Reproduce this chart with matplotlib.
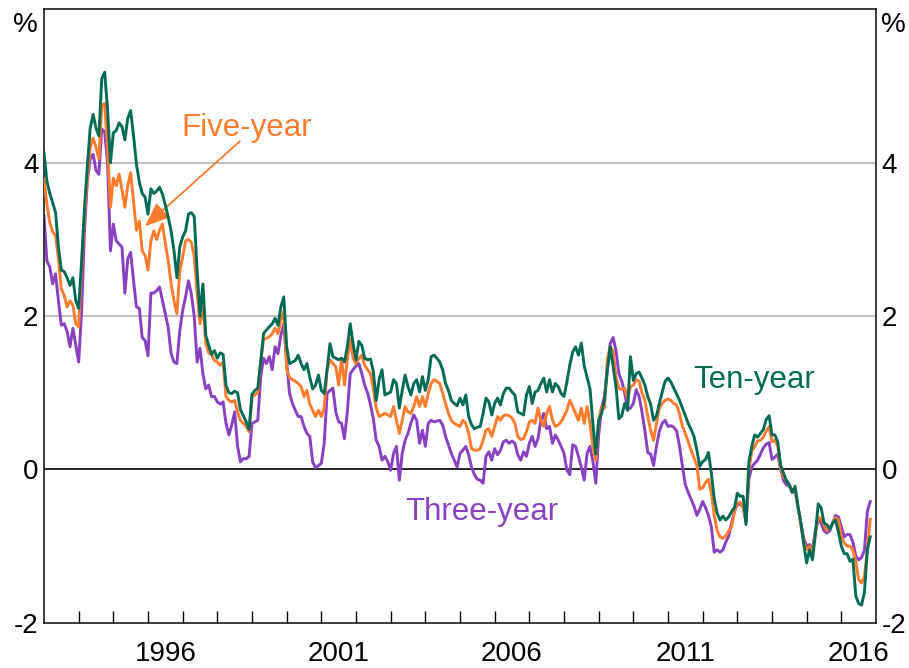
import numpy as np
import matplotlib
matplotlib.use('Agg')
import matplotlib.pyplot as plt

# monthly values, Jan 1993 onwards (per cent)
ten_year = [
    4.13, 3.76, 3.6, 3.48, 3.35, 2.9, 2.6, 2.58, 2.5, 2.4, 2.5, 2.2,
    2.1, 2.7, 3.4, 3.95, 4.45, 4.63, 4.45, 4.35, 5.1, 5.18, 4.7, 4.0,
    4.39, 4.42, 4.52, 4.47, 4.3, 4.58, 4.68, 4.35, 3.98, 3.75, 3.6, 3.55,
    3.33, 3.66, 3.6, 3.63, 3.68, 3.59, 3.45, 3.29, 3.11, 2.85, 2.5, 2.9,
    3.03, 3.11, 3.33, 3.35, 3.3, 2.6, 2.0, 2.42, 1.75, 1.62, 1.5, 1.55,
    1.45, 1.52, 1.5, 1.1, 1.0, 0.99, 1.02, 1.0, 0.78, 0.7, 0.62, 0.52,
    0.98, 1.03, 1.06, 1.4, 1.77, 1.82, 1.86, 1.9, 1.97, 1.88, 2.12, 2.25,
    1.6, 1.38, 1.4, 1.42, 1.49, 1.38, 1.3, 1.38, 1.2, 1.05, 1.1, 1.23,
    1.03, 0.99, 1.3, 1.64, 1.47, 1.45, 1.43, 1.45, 1.4, 1.6, 1.9, 1.64,
    1.43, 1.67, 1.62, 1.45, 1.43, 1.44, 1.28, 0.9, 1.17, 1.3, 0.97, 0.99,
    1.01, 1.17, 1.12, 0.8, 1.03, 1.23, 1.08, 0.97, 1.12, 1.17, 1.01, 1.21,
    1.03, 1.17, 1.47, 1.49, 1.45, 1.4, 1.3, 1.12, 1.03, 0.9, 0.86, 0.83,
    0.93, 0.84, 0.97, 0.69, 0.58, 0.53, 0.55, 0.56, 0.73, 0.93, 0.88, 0.71,
    0.86, 0.93, 0.84, 0.99, 1.06, 1.06, 1.01, 0.97, 0.75, 0.73, 0.71, 0.97,
    1.08, 0.86, 1.01, 1.03, 1.12, 1.19, 1.01, 1.17, 1.01, 1.12, 1.08, 0.99,
    0.95, 1.14, 1.36, 1.53, 1.6, 1.49, 1.65, 1.35, 1.2, 1.05, 0.6, 0.2,
    0.64, 0.73, 0.9, 1.3, 1.6, 1.34, 1.08, 0.66, 0.7, 0.86, 0.77, 1.47,
    1.16, 1.25, 1.27, 1.19, 1.1, 0.95, 0.85, 0.64, 0.7, 0.86, 1.01, 1.15,
    1.19, 1.14, 1.06, 0.98, 0.9, 0.8, 0.7, 0.6, 0.52, 0.43, 0.25, 0.04,
    0.1, 0.13, 0.22, -0.05, -0.38, -0.57, -0.66, -0.61, -0.66, -0.62, -0.55, -0.5,
    -0.31, -0.35, -0.35, -0.72, 0.1, 0.3, 0.45, 0.42, 0.47, 0.52, 0.65, 0.7,
    0.45, 0.45, 0.36, 0.05, -0.05, -0.15, -0.2, -0.3, -0.22, -0.48, -0.7, -0.98,
    -1.22, -1.05, -1.18, -0.85, -0.45, -0.5, -0.7, -0.72, -0.78, -0.7, -0.66, -0.82,
    -1.0, -1.1, -1.1, -1.2, -1.17, -1.65, -1.75, -1.77, -1.6, -1.05, -0.88,
]

five_year = [
    3.79, 3.46, 3.22, 3.1, 3.05, 2.75, 2.35, 2.27, 2.12, 2.2, 2.14, 1.9,
    1.86, 2.6, 3.3, 3.8, 4.2, 4.32, 4.2, 4.05, 4.75, 4.77, 4.2, 3.42,
    3.8, 3.7, 3.85, 3.65, 3.42, 3.7, 3.87, 3.5, 3.12, 3.24, 2.85, 2.79,
    2.6, 2.98, 3.11, 3.0, 3.12, 3.2, 2.95, 2.72, 2.42, 2.2, 2.03, 2.59,
    2.77, 2.98, 3.0, 2.96, 2.78, 2.3, 1.9, 2.15, 1.65, 1.52, 1.5, 1.42,
    1.4, 1.36, 1.4, 0.95, 0.9, 0.88, 0.9, 0.75, 0.64, 0.6, 0.56, 0.49,
    0.95, 0.97, 1.0, 1.4, 1.69, 1.71, 1.73, 1.77, 1.84, 1.77, 1.95, 2.06,
    1.3, 1.2, 1.17, 1.15, 1.12, 1.08, 0.95, 1.03, 0.85, 0.77, 0.69, 0.77,
    0.69, 0.8, 1.3, 1.43, 1.38, 1.34, 1.1, 1.45, 1.1, 1.43, 1.7, 1.45,
    1.38, 1.45, 1.49, 1.36, 1.3, 1.25, 1.05, 0.8, 0.69, 0.71, 0.73, 0.71,
    0.69, 0.82, 0.64, 0.47, 0.64, 0.82, 0.75, 0.73, 0.82, 0.95, 0.82, 0.95,
    0.82, 0.99, 1.12, 1.17, 1.15, 1.12, 0.99, 0.86, 0.73, 0.64, 0.6, 0.58,
    0.56, 0.64, 0.6, 0.47, 0.27, 0.25, 0.25, 0.27, 0.38, 0.51, 0.53, 0.43,
    0.56, 0.69, 0.64, 0.7, 0.71, 0.7, 0.67, 0.6, 0.43, 0.39, 0.4, 0.49,
    0.62, 0.64, 0.6, 0.8, 0.64, 0.56, 0.73, 0.82, 0.64, 0.56, 0.58, 0.62,
    0.69, 0.77, 0.9, 0.82, 0.73, 0.64, 0.8, 0.6, 0.82, 0.6, 0.3, 0.12,
    0.64, 0.82, 0.8, 1.43, 1.6, 1.55, 1.2, 1.06, 1.04, 1.06, 0.92, 1.08,
    1.1, 1.17, 1.15, 1.0, 0.9, 0.69, 0.51, 0.38, 0.6, 0.8, 0.86, 0.9,
    0.92, 0.9, 0.86, 0.84, 0.72, 0.56, 0.47, 0.36, 0.25, 0.15, 0.05, -0.26,
    -0.24, -0.17, -0.13, -0.3, -0.6, -0.8, -0.88, -0.9, -0.87, -0.8, -0.75, -0.55,
    -0.44, -0.43, -0.5, -0.68, 0.0, 0.24, 0.3, 0.37, 0.38, 0.42, 0.5, 0.56,
    0.36, 0.38, 0.3, 0.0, -0.1, -0.14, -0.2, -0.3, -0.26, -0.5, -0.72, -0.95,
    -1.05, -1.0, -1.1, -0.83, -0.62, -0.65, -0.72, -0.8, -0.77, -0.7, -0.63, -0.66,
    -0.88, -0.96, -1.0, -1.0, -1.05, -1.2, -1.44, -1.48, -1.4, -1.05, -0.65,
]

three_year = [
    3.3, 2.72, 2.64, 2.42, 2.55, 2.2, 1.88, 1.9, 1.8, 1.6, 1.84, 1.62,
    1.4, 2.05, 3.1, 3.76, 4.05, 4.11, 3.9, 3.85, 4.44, 4.4, 4.0, 2.85,
    3.2, 2.98, 2.94, 2.9, 2.3, 2.75, 2.83, 2.46, 2.12, 2.1, 1.72, 1.68,
    1.48, 2.3, 2.3, 2.33, 2.38, 2.2, 2.03, 1.85, 1.51, 1.4, 1.38, 1.81,
    2.07, 2.25, 2.46, 2.29, 2.0, 1.4, 1.58, 1.25, 1.05, 1.1, 0.95, 0.95,
    0.88, 0.85, 0.88, 0.6, 0.45, 0.58, 0.75, 0.3, 0.1, 0.14, 0.14, 0.17,
    0.6, 0.62, 0.64, 1.2, 1.45, 1.38, 1.47, 1.3, 1.6, 1.51, 1.75, 1.9,
    1.4, 0.99, 0.86, 0.77, 0.69, 0.69, 0.56, 0.47, 0.43, 0.1, 0.02, 0.05,
    0.08, 0.34, 0.99, 1.03, 1.06, 0.75, 0.62, 0.6, 0.4, 0.75, 1.25, 1.3,
    1.35, 1.38, 1.25, 1.1, 1.0, 0.85, 0.66, 0.38, 0.3, 0.12, 0.17, 0.1,
    -0.01, 0.21, 0.3, -0.14, 0.21, 0.38, 0.47, 0.6, 0.71, 0.64, 0.34, 0.51,
    0.3, 0.6, 0.64, 0.62, 0.63, 0.64, 0.58, 0.43, 0.32, 0.21, 0.12, 0.03,
    0.21, 0.25, 0.3, 0.19, 0.03, -0.07, -0.13, -0.14, -0.18, 0.17, 0.23, 0.12,
    0.27, 0.19, 0.25, 0.36, 0.38, 0.34, 0.37, 0.34, 0.19, 0.12, 0.23, 0.17,
    0.34, 0.43, 0.3, 0.4, 0.64, 0.73, 0.53, 0.56, 0.34, 0.45, 0.38, 0.3,
    0.21, -0.01, -0.07, 0.32, 0.3, 0.17, 0.03, -0.14, 0.21, 0.3, 0.1, -0.18,
    0.45, 0.8, 0.95, 1.3, 1.64, 1.72, 1.55, 1.25, 1.15, 1.0, 0.78, 0.8,
    0.86, 1.04, 0.95, 0.75, 0.5, 0.22, 0.2, 0.05, 0.3, 0.5, 0.6, 0.64,
    0.56, 0.57, 0.55, 0.5, 0.3, 0.04, -0.2, -0.3, -0.39, -0.48, -0.6, -0.52,
    -0.42, -0.5, -0.6, -0.75, -1.08, -1.05, -1.08, -1.05, -0.95, -0.87, -0.7, -0.55,
    -0.45, -0.46, -0.48, -0.68, -0.13, 0.03, 0.08, 0.12, 0.2, 0.28, 0.33, 0.35,
    0.13, 0.16, 0.2, 0.0, -0.15, -0.2, -0.22, -0.3, -0.28, -0.5, -0.7, -0.9,
    -1.0, -0.98, -1.05, -0.8, -0.66, -0.7, -0.8, -0.83, -0.8, -0.7, -0.6, -0.62,
    -0.75, -0.88, -0.85, -0.85, -0.95, -1.13, -1.18, -1.15, -1.05, -0.55, -0.42,
]

start_year = 1993
label_years = [1996, 2001, 2006, 2011, 2016]
y_ticks = [-2, 0, 2, 4]

green = '#006b55'
orange = '#ff7b2c'
purple = '#8a3fc2'

plt.rcParams['font.family'] = ['Liberation Sans', 'DejaVu Sans']

# monthly x positions in decimal years
x = start_year + np.arange(len(ten_year)) / 12

fig = plt.figure(figsize=(9.09, 6.68), dpi=100)
ax = fig.add_axes([0.0484, 0.0678, 0.9153, 0.9181])

ax.axhline(2, color='#b4b4b4', lw=1.2, zorder=1)
ax.axhline(4, color='#b4b4b4', lw=1.2, zorder=1)
ax.axhline(0, color='black', lw=1.2, zorder=1)

ax.plot(x, three_year, color=purple, lw=2.1, zorder=2)
ax.plot(x, five_year, color=orange, lw=2.1, zorder=3)
ax.plot(x, ten_year, color=green, lw=2.1, zorder=4)

ax.set_xlim(1993, 2017)
ax.set_ylim(-2, 6)

# year ticks inside, labels in the middle of the year
ax.set_xticks(range(1994, 2017))
ax.set_xticklabels([])
ax.tick_params(axis='x', which='major', direction='in', length=8.5, width=1)
ax.set_xticks([yr + 0.5 for yr in label_years], minor=True)
ax.set_xticklabels([str(yr) for yr in label_years], minor=True)
ax.tick_params(axis='x', which='minor', length=0, labelsize=20, pad=13)

ax.set_yticks(y_ticks)
ax.set_yticklabels([str(v) for v in y_ticks])
ax.tick_params(axis='y', length=0, labelsize=20, pad=4,
               labelleft=True, labelright=True)

for sp in ax.spines.values():
    sp.set_linewidth(1.2)
    sp.set_color('#1a1a1a')

fig.text(25 / 909, 1 - 25 / 668, '%', fontsize=20, ha='center', va='center')
fig.text(893 / 909, 1 - 25 / 668, '%', fontsize=20, ha='center', va='center')

ax.text(1998.84, 4.45, 'Five-year', color=orange, fontsize=22.5,
        ha='center', va='center')
ax.text(2013.48, 1.17, 'Ten-year', color=green, fontsize=22.5,
        ha='center', va='center')
ax.text(2005.63, -0.56, 'Three-year', color=purple, fontsize=22.5,
        ha='center', va='center')
ax.annotate('', xy=(1995.91, 3.17), xytext=(1998.65, 4.28),
            arrowprops=dict(arrowstyle='-|>,head_length=0.75,head_width=0.3',
                            color=orange, lw=1.3, mutation_scale=20,
                            shrinkA=0, shrinkB=0))

fig.savefig('out.png', dpi=100)
